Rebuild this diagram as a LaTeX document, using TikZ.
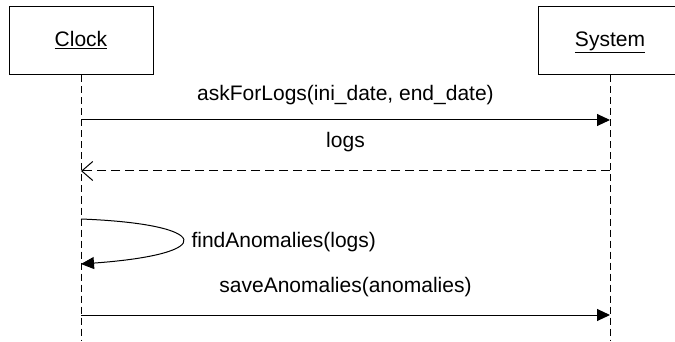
\documentclass[tikz,border=0pt]{standalone}
\usepackage{fontspec}
\setmainfont{Liberation Sans}
\usetikzlibrary{arrows.meta}

\tikzset{
  objbox/.style={draw,line width=1pt,minimum width=144pt,minimum height=68pt,
    text height=15pt,text depth=4pt,font=\fontsize{21}{25}\selectfont},
  lifeline/.style={line width=1pt,dash pattern=on 7pt off 4pt},
  msg/.style={line width=1pt,-{Triangle[length=13pt,width=12pt]}},
  reply/.style={line width=1pt,dash pattern=on 9pt off 5pt,-{Straight Barb[length=11pt,width=19pt,line width=1pt]}},
  msglabel/.style={font=\fontsize{21}{25}\selectfont}
}

\begin{document}
\begin{tikzpicture}[x=1pt,y=-1pt]
  \useasboundingbox (0,0) rectangle (675,342);
  % objects and their lifelines
  \node[objbox] (clock) at (81,41) {\underline{Clock}};
  \node[objbox] (system) at (610,41) {\underline{System}};
  \coordinate (clockend) at (81,340);
  \coordinate (systemend) at (610,340);
  \draw[lifeline] (clock.south) -- (clockend);
  \draw[lifeline] (system.south) -- (systemend);

  % messages
  \coordinate (m1a) at (81,120);   \coordinate (m1b) at (610,120);
  \coordinate (m2a) at (610,171);  \coordinate (m2b) at (81,171);
  \coordinate (m3a) at (81,219);   \coordinate (m3b) at (81,264);
  \coordinate (m4a) at (81,315);   \coordinate (m4b) at (610,315);

  \draw[msg] (m1a) -- (m1b);
  \node[msglabel] (l1) at (345.5,95) {askForLogs(ini\_date, end\_date)};
  \draw[reply] (m2a) -- (m2b);
  \node[msglabel] (l2) at (345.5,142) {logs};
  \draw[msg] (m3a) .. controls (212,224) and (220,254) .. (m3b);
  \node[msglabel,anchor=west] (l3) at (188,242) {findAnomalies(logs)};
  \draw[msg] (m4a) -- (m4b);
  \node[msglabel] (l4) at (345.5,287) {saveAnomalies(anomalies)};
\end{tikzpicture}
\end{document}
